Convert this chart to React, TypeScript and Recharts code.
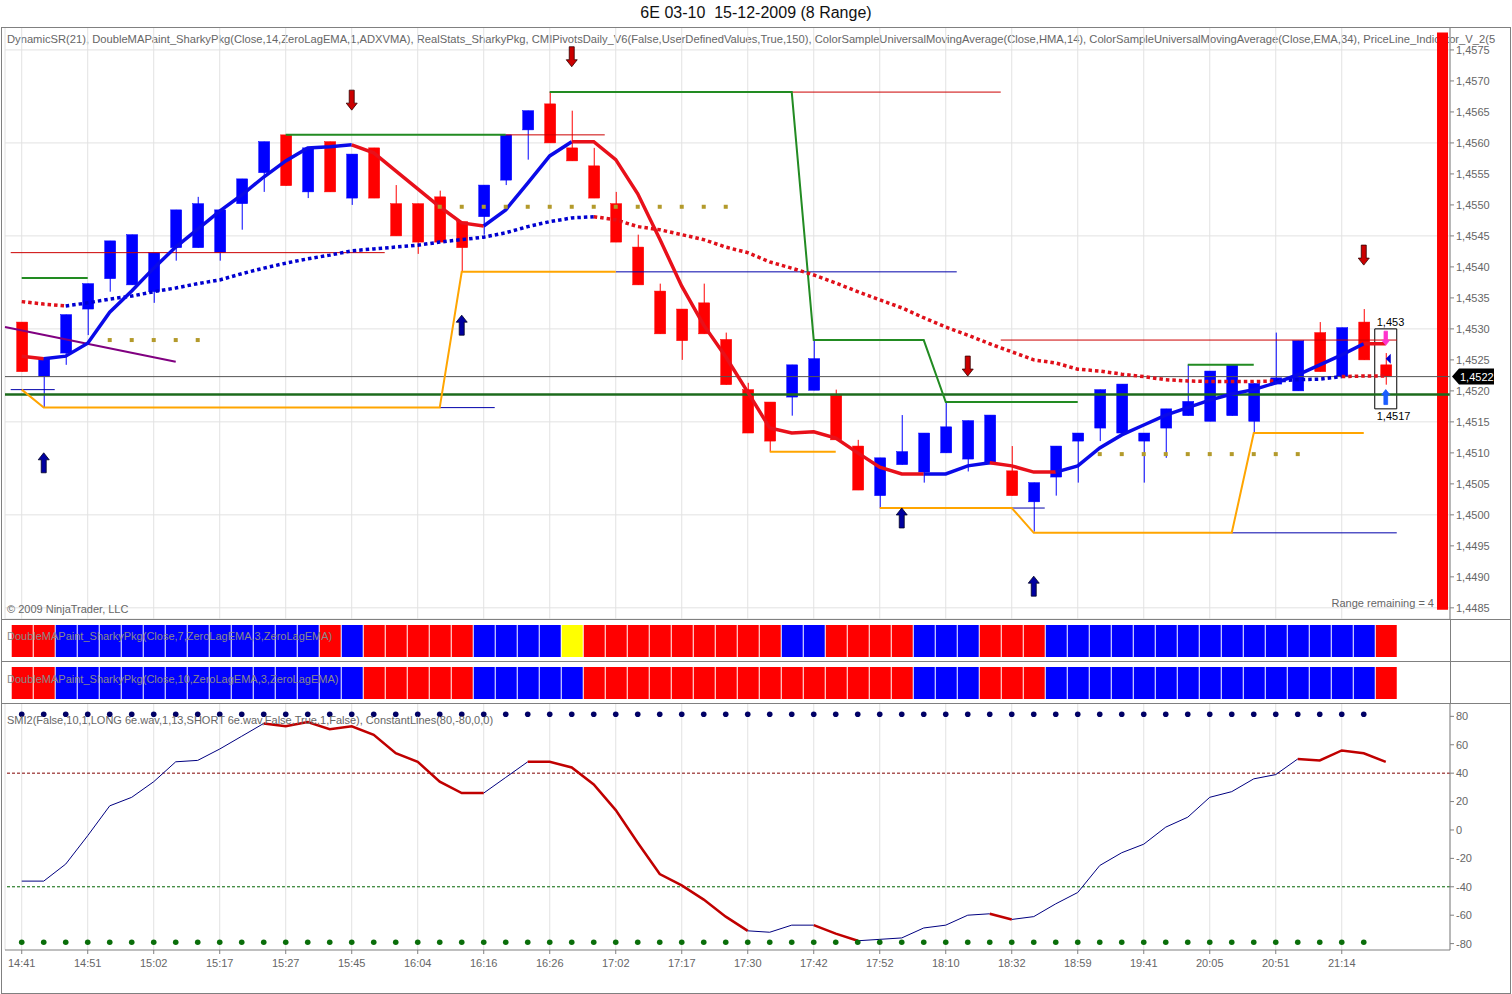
import React from "react";
import {
  Bar,
  BarChart,
  CartesianGrid,
  Cell,
  ComposedChart,
  Line,
  ReferenceArea,
  ReferenceLine,
  Scatter,
  XAxis,
  YAxis,
} from "recharts";

const FONT = '"Liberation Sans", Arial, sans-serif';

// 8-range bars, one per index
const OPEN = [
  1.45311, 1.45223, 1.45261, 1.45332, 1.45381, 1.45371, 1.4536, 1.45431, 1.45431, 1.45423,
  1.45502, 1.45552, 1.45613, 1.45521, 1.45602, 1.45511, 1.45592, 1.45502, 1.45502, 1.45513,
  1.45473, 1.45481, 1.4554, 1.45621, 1.45663, 1.45592, 1.45563, 1.45502, 1.45432, 1.45361,
  1.45332, 1.45342, 1.45283, 1.45202, 1.45182, 1.4519, 1.45201, 1.45193, 1.45111, 1.45031,
  1.45081, 1.45069, 1.451, 1.4509, 1.45082, 1.45071, 1.45021, 1.45061, 1.45119, 1.4514,
  1.45132, 1.45119, 1.4514, 1.4516, 1.45151, 1.4516, 1.45151, 1.45211, 1.452, 1.45294,
  1.45223, 1.45311, 1.45242,
];
const HIGH = [
  1.45311, 1.45252, 1.45323, 1.45373, 1.45442, 1.45452, 1.45423, 1.45492, 1.45513, 1.45492,
  1.45542, 1.45602, 1.45613, 1.45592, 1.45602, 1.45582, 1.45592, 1.45532, 1.45502, 1.45523,
  1.45473, 1.45532, 1.45613, 1.45652, 1.45682, 1.45652, 1.45592, 1.45521, 1.45452, 1.45373,
  1.45332, 1.45373, 1.45294, 1.45213, 1.45182, 1.45242, 1.45282, 1.45202, 1.45121, 1.45092,
  1.45161, 1.45132, 1.45181, 1.45152, 1.45161, 1.45111, 1.45052, 1.45111, 1.45132, 1.45202,
  1.45211, 1.45132, 1.45171, 1.45242, 1.45232, 1.45242, 1.45212, 1.45294, 1.45281, 1.45311,
  1.45302, 1.45332, 1.45261,
];
const LOW = [
  1.45231, 1.45173, 1.45242, 1.4529, 1.4536, 1.45371, 1.45342, 1.4541, 1.45431, 1.4541,
  1.4546, 1.45521, 1.45531, 1.45511, 1.45521, 1.455, 1.45511, 1.4545, 1.45421, 1.4544,
  1.45392, 1.45452, 1.45532, 1.45573, 1.456, 1.45571, 1.45511, 1.4544, 1.45371, 1.45292,
  1.4525, 1.45292, 1.4521, 1.45132, 1.45102, 1.4516, 1.45201, 1.45121, 1.4504, 1.45011,
  1.45081, 1.45052, 1.451, 1.4507, 1.45082, 1.45031, 1.44973, 1.45031, 1.45052, 1.45119,
  1.45132, 1.45052, 1.45092, 1.4516, 1.45151, 1.4516, 1.45132, 1.45211, 1.452, 1.45231,
  1.45223, 1.4525, 1.4521,
];
const CLOSE = [
  1.45231, 1.45252, 1.45323, 1.45373, 1.45442, 1.45452, 1.45423, 1.45492, 1.45502, 1.45492,
  1.45542, 1.45602, 1.45531, 1.45592, 1.45521, 1.45582, 1.45511, 1.4545, 1.4544, 1.4544,
  1.45431, 1.45532, 1.45613, 1.45652, 1.456, 1.45571, 1.45511, 1.4544, 1.45371, 1.45292,
  1.45281, 1.45292, 1.4521, 1.45132, 1.45119, 1.45242, 1.45252, 1.45121, 1.4504, 1.45092,
  1.45102, 1.45132, 1.45142, 1.45152, 1.45161, 1.45031, 1.45052, 1.45111, 1.45132, 1.45202,
  1.45211, 1.45132, 1.45171, 1.45183, 1.45232, 1.45242, 1.45212, 1.45221, 1.45281, 1.45231,
  1.45302, 1.4525, 1.45223,
];

// ZeroLagEMA(14) painted line
const FAST_MA = [
  1.45256, 1.45252, 1.45256, 1.45277, 1.45327, 1.45361, 1.45398, 1.45432, 1.45461, 1.4549,
  1.45516, 1.45545, 1.45571, 1.45592, 1.45594, 1.45597, 1.45584, 1.45555, 1.45526, 1.45497,
  1.45471, 1.45466, 1.45492, 1.45535, 1.45579, 1.45602, 1.45602, 1.45573, 1.45518, 1.45445,
  1.45369, 1.45306, 1.45255, 1.45198, 1.4514, 1.45132, 1.45134, 1.45124, 1.451, 1.45077,
  1.45066, 1.45066, 1.45066, 1.45079, 1.45084, 1.45079, 1.45069, 1.45069, 1.45079, 1.45108,
  1.45129, 1.45145, 1.45161, 1.45173, 1.45185, 1.45195, 1.45202, 1.45213, 1.45226, 1.45242,
  1.45258, 1.45276, 1.45276,
];
const FAST_DOWN_RUNS = [[0, 1], [15, 21], [25, 41], [44, 47], [61, 62]];

// EMA(34) dotted line
const SLOW_MA = [
  1.45344, 1.4534, 1.45337, 1.45342, 1.45348, 1.45353, 1.4536, 1.45366, 1.45373, 1.45379,
  1.45389, 1.45398, 1.45406, 1.45413, 1.45419, 1.45426, 1.45429, 1.45432, 1.45435, 1.4544,
  1.45444, 1.45448, 1.45455, 1.45465, 1.45473, 1.45479, 1.45481, 1.45476, 1.45465, 1.4546,
  1.45452, 1.45444, 1.45432, 1.45423, 1.45408, 1.45398, 1.45387, 1.45374, 1.4536, 1.45347,
  1.45334, 1.45318, 1.45303, 1.4529, 1.45276, 1.45263, 1.4525, 1.45245, 1.45235, 1.45232,
  1.45227, 1.45223, 1.45218, 1.45216, 1.45215, 1.45215, 1.45215, 1.45216, 1.45218, 1.45219,
  1.45223, 1.45224, 1.45224,
];
const SLOW_DOWN_RUNS = [[0, 2], [26, 57], [60, 62]];

// DynamicSR steps: [from, to, price]
const GREEN_STEPS = [
  [0, 3, 1.45382], [12, 22, 1.45613], [24, 35, 1.45682],
  [36, 41, 1.45282], [42, 48, 1.45182], [53, 56, 1.45242],
];
const ORANGE_STEPS = [
  [0, 0, 1.45202], [1, 19, 1.45173], [20, 27, 1.45392], [34, 37, 1.45102],
  [39, 45, 1.45011], [46, 55, 1.44971], [56, 61, 1.45132],
];
const RED_LEVELS = [
  [-0.5, 16.5, 1.45423], [22, 26.5, 1.45613], [24, 44.5, 1.45682], [44.5, 62.5, 1.45282],
];
const BLUE_LEVELS = [
  [-0.5, 1.5, 1.45202], [19, 21.5, 1.45173], [27, 42.5, 1.45392],
  [45, 46.5, 1.45011], [55, 62.5, 1.44971],
];
const GOLD_DOT_RUNS = [[4, 8, 1.45282], [19, 32, 1.45497], [49, 58, 1.45098]];
const PURPLE_TREND = [[-0.76, 1.45303], [7, 1.45247]];

const SELL_IDX = [15, 25, 43, 61];
const SELL_PRICE = [1.45669, 1.45739, 1.4524, 1.45419];
const BUY_IDX = [1, 20, 40, 46];
const BUY_PRICE = [1.45084, 1.45306, 1.44995, 1.44885];

const SR_LEVEL = 1.45194;
const LAST_PRICE = 1.45223;
const BOX_HIGH = 1.453;
const BOX_LOW = 1.45171;

// DoubleMAPaint rows: 1 up, -1 down, 0 neutral
const ROW_FAST = [
  -1, -1, 1, 1, 1, 1, 1, 1, 1, 1, 1, 1, 1, 1, -1, 1, -1, -1, -1, -1,
  -1, 1, 1, 1, 1, 0, -1, -1, -1, -1, -1, -1, -1, -1, -1, 1, 1, -1, -1, -1,
  -1, 1, 1, 1, -1, -1, -1, 1, 1, 1, 1, 1, 1, 1, 1, 1, 1, 1, 1, 1,
  1, 1, -1,
];
const ROW_SLOW = [
  -1, -1, 1, 1, 1, 1, 1, 1, 1, 1, 1, 1, 1, 1, 1, 1, -1, -1, -1, -1,
  -1, 1, 1, 1, 1, 1, -1, -1, -1, -1, -1, -1, -1, -1, -1, -1, -1, -1, -1, -1,
  -1, 1, 1, 1, -1, -1, -1, 1, 1, 1, 1, 1, 1, 1, 1, 1, 1, 1, 1, 1,
  1, 1, -1,
];

const SMI = [
  -36, -36, -24, -4, 17, 23, 34, 48, 49, 57, 66, 75, 73, 76, 71, 73, 67, 54, 48, 34,
  26, 26, 37, 48, 48, 44, 32, 14, -9, -31, -39, -49, -61, -71, -72, -67, -67, -73, -78, -77,
  -76, -69, -67, -60, -59, -63, -61, -52, -44, -25, -16, -10, 2, 9, 23, 27, 36, 39, 50, 49,
  56, 54, 48,
];
const SMI_DOWN_RUNS = [[11, 21], [23, 33], [36, 38], [44, 45], [58, 62]];
const SMI_UPPER_DOT = 81.5;
const SMI_LOWER_DOT = -79;

const TIME_LABELS = [
  "14:41", "14:51", "15:02", "15:17", "15:27", "15:45", "16:04", "16:16", "16:26", "17:02",
  "17:17", "17:30", "17:42", "17:52", "18:10", "18:32", "18:59", "19:41", "20:05", "20:51", "21:14",
];
const GRID_X = [0, 3, 6, 9, 12, 15, 18, 21, 24, 27, 30, 33, 36, 39, 42, 45, 48, 51, 54, 57, 60];
const PRICE_TICKS = [
  1.4485, 1.449, 1.4495, 1.45, 1.4505, 1.451, 1.4515, 1.452, 1.4525, 1.453,
  1.4535, 1.454, 1.4545, 1.455, 1.4555, 1.456, 1.4565, 1.457, 1.4575,
];
const GRID_PRICES = [1.4485, 1.45, 1.4515, 1.453, 1.4545, 1.456, 1.4575];
const SMI_TICKS = [-80, -60, -40, -20, 0, 20, 40, 60, 80];

const X_DOMAIN = [-0.76, 64.92];
const Y_DOMAIN = [1.44832, 1.45787];
const SMI_DOMAIN = [-84.5, 89.4];

const BLUE = "#0000ff";
const RED = "#ff0000";
const GRID = "#e2e2e2";
const AXIS = "#808080";
const TXT = "#666666";

const expandSteps = (steps: number[][]) => {
  const out: (number | null)[] = OPEN.map(() => null);
  steps.forEach(([a, b, v]) => {
    for (let i = a; i <= b; i++) out[i] = v;
  });
  return out;
};

const colourRuns = (n: number, downRuns: number[][]) => {
  const runs: { a: number; b: number; down: boolean }[] = [];
  let cur = 0;
  downRuns.forEach(([a, b]) => {
    if (a > cur) runs.push({ a: cur, b: a, down: false });
    runs.push({ a, b, down: true });
    cur = b;
  });
  if (cur < n - 1) runs.push({ a: cur, b: n - 1, down: false });
  return runs;
};

const greenLine = expandSteps(GREEN_STEPS);
const orangeLine = expandSteps(ORANGE_STEPS);

const rows = OPEN.map((o, i) => ({
  idx: i,
  open: o,
  high: HIGH[i],
  low: LOW[i],
  close: CLOSE[i],
  range: [LOW[i], HIGH[i]],
  fast: FAST_MA[i],
  slow: SLOW_MA[i],
  green: greenLine[i],
  orange: orangeLine[i],
  smi: SMI[i],
  rowFast: ROW_FAST[i],
  rowSlow: ROW_SLOW[i],
  one: 1,
}));

const goldDots = GOLD_DOT_RUNS.flatMap(([a, b, v]) => {
  const pts = [];
  for (let i = a; i <= b; i++) pts.push({ idx: i, v });
  return pts;
});
const sellArrows = SELL_IDX.map((x, i) => ({ idx: x, v: SELL_PRICE[i] }));
const buyArrows = BUY_IDX.map((x, i) => ({ idx: x, v: BUY_PRICE[i] }));
const upperDots = OPEN.slice(0, 62).map((_, i) => ({ idx: i, v: SMI_UPPER_DOT }));
const lowerDots = OPEN.slice(0, 62).map((_, i) => ({ idx: i, v: SMI_LOWER_DOT }));
const lastIdx = OPEN.length - 1;
const lastMarks = {
  pinkDown: [{ idx: lastIdx, v: 1.45285 }],
  blueUp: [{ idx: lastIdx, v: 1.4519 }],
  blueLeft: [{ idx: lastIdx, v: 1.45252 }],
};

const fastRuns = colourRuns(OPEN.length, FAST_DOWN_RUNS);
const slowRuns = colourRuns(OPEN.length, SLOW_DOWN_RUNS);
const smiRuns = colourRuns(OPEN.length, SMI_DOWN_RUNS);

const fmtPrice = (v: number) => v.toFixed(4).replace(".", ",");
const trendColor = (t: number) => (t > 0 ? BLUE : t < 0 ? RED : "#ffff00");

function Candle(props: any) {
  const { x, y, width, height, payload } = props;
  if (!payload) return null;
  const { open, close, high, low } = payload;
  const colour = close >= open ? BLUE : RED;
  const h = Math.abs(height);
  const top0 = height < 0 ? y + height : y;
  const k = high > low ? h / (high - low) : 0;
  const bodyTop = top0 + (high - Math.max(open, close)) * k;
  const bodyBot = top0 + (high - Math.min(open, close)) * k;
  const cx = x + width / 2;
  return (
    <g>
      <line x1={cx} x2={cx} y1={top0} y2={top0 + h} stroke={colour} strokeWidth={1} />
      <rect
        x={x}
        y={bodyTop}
        width={width}
        height={Math.max(1, bodyBot - bodyTop)}
        fill={colour}
        stroke={colour}
        strokeWidth={0.5}
      />
    </g>
  );
}

function Arrow({ cx, cy, up, fill, stroke, s = 1 }: any) {
  const d = up ? -1 : 1;
  const pts = [
    [-2.5, -10], [2.5, -10], [2.5, 3], [5.5, 3], [0, 10], [-5.5, 3], [-2.5, 3],
  ]
    .map(([px, py]) => `${cx + px * s},${cy + py * s * d}`)
    .join(" ");
  return <polygon points={pts} fill={fill} stroke={stroke} strokeWidth={0.8} />;
}

function Square(props: any) {
  return <rect x={props.cx - 2} y={props.cy - 2} width={4} height={4} fill="#b39a2b" />;
}

function PriceTag(props: any) {
  const vb = props.viewBox;
  if (!vb) return null;
  const x = vb.x + vb.width + 2;
  const y = vb.y;
  return (
    <g>
      <polygon
        points={`${x},${y} ${x + 7},${y - 8} ${x + 42},${y - 8} ${x + 42},${y + 8} ${x + 7},${y + 8}`}
        fill="#000"
      />
      <text x={x + 8} y={y + 4} fill="#fff" fontSize={11} fontFamily={FONT}>
        {fmtPrice(LAST_PRICE)}
      </text>
    </g>
  );
}

function BoxLabels(props: any) {
  const vb = props.viewBox;
  if (!vb) return null;
  return (
    <g fontSize={11} fontFamily={FONT} fill="#000">
      <text x={vb.x + 2} y={vb.y - 3}>{fmtPrice(BOX_HIGH).replace(/0+$/, "")}</text>
      <text x={vb.x + 2} y={vb.y + vb.height + 11}>{fmtPrice(BOX_LOW)}</text>
    </g>
  );
}

function PriceChart() {
  return (
    <ComposedChart width={1512} height={592} data={rows} margin={{ top: 0, right: 2, bottom: 0, left: 5 }}>
      <CartesianGrid stroke={GRID} yAxisId="grid" />
      <XAxis dataKey="idx" type="number" domain={X_DOMAIN} ticks={GRID_X} hide allowDataOverflow />
      <YAxis yAxisId="grid" type="number" domain={Y_DOMAIN} ticks={GRID_PRICES} hide allowDataOverflow />
      <YAxis
        orientation="right"
        type="number"
        domain={Y_DOMAIN}
        ticks={PRICE_TICKS}
        tickFormatter={fmtPrice}
        width={60}
        allowDataOverflow
        interval={0}
        tick={{ fontSize: 11, fill: TXT, fontFamily: FONT }}
        tickLine={{ stroke: AXIS }}
        tickSize={4}
        axisLine={{ stroke: AXIS }}
      />
      {RED_LEVELS.map(([a, b, v], i) => (
        <ReferenceLine key={`r${i}`} segment={[{ x: a, y: v }, { x: b, y: v }]} stroke="#cc0000" strokeWidth={1} />
      ))}
      {BLUE_LEVELS.map(([a, b, v], i) => (
        <ReferenceLine key={`b${i}`} segment={[{ x: a, y: v }, { x: b, y: v }]} stroke="#0000aa" strokeWidth={1} />
      ))}
      <ReferenceLine
        segment={[
          { x: PURPLE_TREND[0][0], y: PURPLE_TREND[0][1] },
          { x: PURPLE_TREND[1][0], y: PURPLE_TREND[1][1] },
        ]}
        stroke="#800080"
        strokeWidth={2}
      />
      <ReferenceLine y={LAST_PRICE} stroke="#555" strokeWidth={1} label={PriceTag} />
      <ReferenceLine y={SR_LEVEL} stroke="#1c6b1c" strokeWidth={2.5} />
      <Bar dataKey="range" shape={<Candle />} barSize={11} isAnimationActive={false} />
      <Line dataKey="green" stroke="#228b22" strokeWidth={2} dot={false} isAnimationActive={false} />
      <Line dataKey="orange" stroke="#ffa500" strokeWidth={2} dot={false} isAnimationActive={false} />
      {slowRuns.map((r) => (
        <Line
          key={`s${r.a}`}
          dataKey={(d: any) => (d.idx >= r.a && d.idx <= r.b ? d.slow : null)}
          stroke={r.down ? "#e0101a" : "#0000d0"}
          strokeWidth={3.5}
          strokeDasharray="3.5 3"
          dot={false}
          isAnimationActive={false}
        />
      ))}
      {fastRuns.map((r) => (
        <Line
          key={`f${r.a}`}
          dataKey={(d: any) => (d.idx >= r.a && d.idx <= r.b ? d.fast : null)}
          stroke={r.down ? "#e8101a" : "#0a0ae8"}
          strokeWidth={3.5}
          dot={false}
          isAnimationActive={false}
        />
      ))}
      <Scatter data={goldDots} dataKey="v" shape={Square} isAnimationActive={false} />
      <Scatter
        data={sellArrows}
        dataKey="v"
        shape={(p: any) => <Arrow cx={p.cx} cy={p.cy} up={false} fill="#cc0000" stroke="#300000" />}
        isAnimationActive={false}
      />
      <Scatter
        data={buyArrows}
        dataKey="v"
        shape={(p: any) => <Arrow cx={p.cx} cy={p.cy} up fill="#0000a0" stroke="#000020" />}
        isAnimationActive={false}
      />
      <Scatter
        data={lastMarks.pinkDown}
        dataKey="v"
        shape={(p: any) => <Arrow cx={p.cx} cy={p.cy} up={false} fill="#ff33cc" stroke="#ff33cc" s={0.7} />}
        isAnimationActive={false}
      />
      <Scatter
        data={lastMarks.blueUp}
        dataKey="v"
        shape={(p: any) => <Arrow cx={p.cx} cy={p.cy} up fill="#1a5cff" stroke="#1a5cff" s={0.75} />}
        isAnimationActive={false}
      />
      <Scatter
        data={lastMarks.blueLeft}
        dataKey="v"
        shape={(p: any) => (
          <polygon points={`${p.cx},${p.cy} ${p.cx + 5},${p.cy - 5} ${p.cx + 5},${p.cy + 5}`} fill="#0000cc" />
        )}
        isAnimationActive={false}
      />
      <ReferenceArea
        x1={lastIdx - 0.5}
        x2={lastIdx + 0.5}
        y1={BOX_LOW}
        y2={BOX_HIGH}
        fill="none"
        stroke="#000"
        strokeWidth={1}
        label={BoxLabels}
      />
      <ReferenceArea x1={64.33} x2={64.83} y1={1.44847} y2={1.45778} fill={RED} fillOpacity={1} stroke="none" />
    </ComposedChart>
  );
}

function TrendRow({ field }: { field: "rowFast" | "rowSlow" }) {
  return (
    <BarChart width={1512} height={42} data={rows} margin={{ top: 6, right: 62, bottom: 4, left: 5 }}>
      <XAxis dataKey="idx" type="number" domain={X_DOMAIN} hide allowDataOverflow />
      <YAxis domain={[0, 1]} hide />
      <Bar dataKey="one" barSize={21} isAnimationActive={false}>
        {rows.map((r) => (
          <Cell key={r.idx} fill={trendColor(r[field])} />
        ))}
      </Bar>
    </BarChart>
  );
}

function SmiChart() {
  return (
    <ComposedChart width={1512} height={290} data={rows} margin={{ top: 0, right: 2, bottom: 13, left: 5 }}>
      <CartesianGrid stroke={GRID} horizontal={false} />
      <XAxis
        dataKey="idx"
        type="number"
        domain={X_DOMAIN}
        ticks={GRID_X}
        interval={0}
        allowDataOverflow
        height={30}
        tickMargin={5}
        tickFormatter={(v: number) => TIME_LABELS[v / 3] ?? ""}
        tick={{ fontSize: 11, fill: TXT, fontFamily: FONT }}
        tickLine={{ stroke: AXIS }}
        tickSize={4}
        axisLine={{ stroke: AXIS }}
      />
      <YAxis
        orientation="right"
        type="number"
        domain={SMI_DOMAIN}
        ticks={SMI_TICKS}
        interval={0}
        width={60}
        allowDataOverflow
        tick={{ fontSize: 11, fill: TXT, fontFamily: FONT }}
        tickLine={{ stroke: AXIS }}
        tickSize={4}
        axisLine={{ stroke: AXIS }}
      />
      <ReferenceLine y={40} stroke="#800000" strokeDasharray="3 2" />
      <ReferenceLine y={-40} stroke="#006400" strokeDasharray="3 2" />
      {smiRuns.map((r) => (
        <Line
          key={`m${r.a}`}
          dataKey={(d: any) => (d.idx >= r.a && d.idx <= r.b ? d.smi : null)}
          stroke={r.down ? "#c00000" : "#000080"}
          strokeWidth={r.down ? 2.5 : 1}
          dot={false}
          isAnimationActive={false}
        />
      ))}
      <Scatter
        data={upperDots}
        dataKey="v"
        shape={(p: any) => <circle cx={p.cx} cy={p.cy} r={2.8} fill="#000066" />}
        isAnimationActive={false}
      />
      <Scatter
        data={lowerDots}
        dataKey="v"
        shape={(p: any) => <circle cx={p.cx} cy={p.cy} r={2.8} fill="#0a6e0a" />}
        isAnimationActive={false}
      />
    </ComposedChart>
  );
}

const abs = (top: number, extra: React.CSSProperties = {}): React.CSSProperties => ({
  position: "absolute",
  left: 0,
  top,
  ...extra,
});

const label: React.CSSProperties = {
  position: "absolute",
  left: 7,
  fontSize: 11,
  color: TXT,
  whiteSpace: "nowrap",
  pointerEvents: "none",
};

export default function App() {
  return (
    <div
      style={{
        position: "absolute",
        left: 0,
        top: 0,
        width: 1512,
        height: 994,
        background: "#fff",
        fontFamily: FONT,
        overflow: "hidden",
      }}
    >
      <div style={abs(4, { width: 1512, textAlign: "center", fontSize: 16, color: "#111", whiteSpace: "pre" })}>
        {"6E 03-10  15-12-2009 (8 Range)"}
      </div>
      <div style={{ ...label, top: 33, lineHeight: "13px", fontSize: 11.2 }}>
        DynamicSR(21), DoubleMAPaint_SharkyPkg(Close,14,ZeroLagEMA,1,ADXVMA), RealStats_SharkyPkg,
        CMIPivotsDaily_V6(False,UserDefinedValues,True,150), ColorSampleUniversalMovingAverage(Close,HMA,14),
        ColorSampleUniversalMovingAverage(Close,EMA,34), PriceLine_Indicator_V_2(5
      </div>

      <div style={abs(27)}>
        <PriceChart />
      </div>
      <div style={abs(619)}>
        <TrendRow field="rowFast" />
      </div>
      <div style={abs(661)}>
        <TrendRow field="rowSlow" />
      </div>
      <div style={abs(703)}>
        <SmiChart />
      </div>

      <div style={{ ...label, top: 603, lineHeight: "13px" }}>© 2009 NinjaTrader, LLC</div>
      <div style={{ ...label, left: "auto", right: 78, top: 597, lineHeight: "13px" }}>Range remaining = 4</div>
      <div style={{ ...label, top: 630, lineHeight: "13px", color: "#8a8a8a" }}>
        DoubleMAPaint_SharkyPkg(Close,7,ZeroLagEMA,3,ZeroLagEMA)
      </div>
      <div style={{ ...label, top: 673, lineHeight: "13px", color: "#8a8a8a" }}>
        DoubleMAPaint_SharkyPkg(Close,10,ZeroLagEMA,3,ZeroLagEMA)
      </div>
      <div style={{ ...label, top: 714, lineHeight: "13px" }}>
        SMI2(False,10,1,LONG 6e.wav,1,13,SHORT 6e.wav,False,True,1,False), ConstantLines(80,-80,0,0)
      </div>

      {/* panel frame */}
      <div
        style={{
          position: "absolute",
          left: 1,
          top: 27,
          width: 1510,
          height: 967,
          border: `1px solid ${AXIS}`,
          boxSizing: "border-box",
          pointerEvents: "none",
        }}
      />
      {[619, 661, 703].map((t) => (
        <div key={t} style={{ position: "absolute", left: 1, top: t, width: 1510, height: 1, background: AXIS }} />
      ))}
      <div style={{ position: "absolute", left: 1450, top: 619, width: 1, height: 84, background: AXIS }} />
    </div>
  );
}
